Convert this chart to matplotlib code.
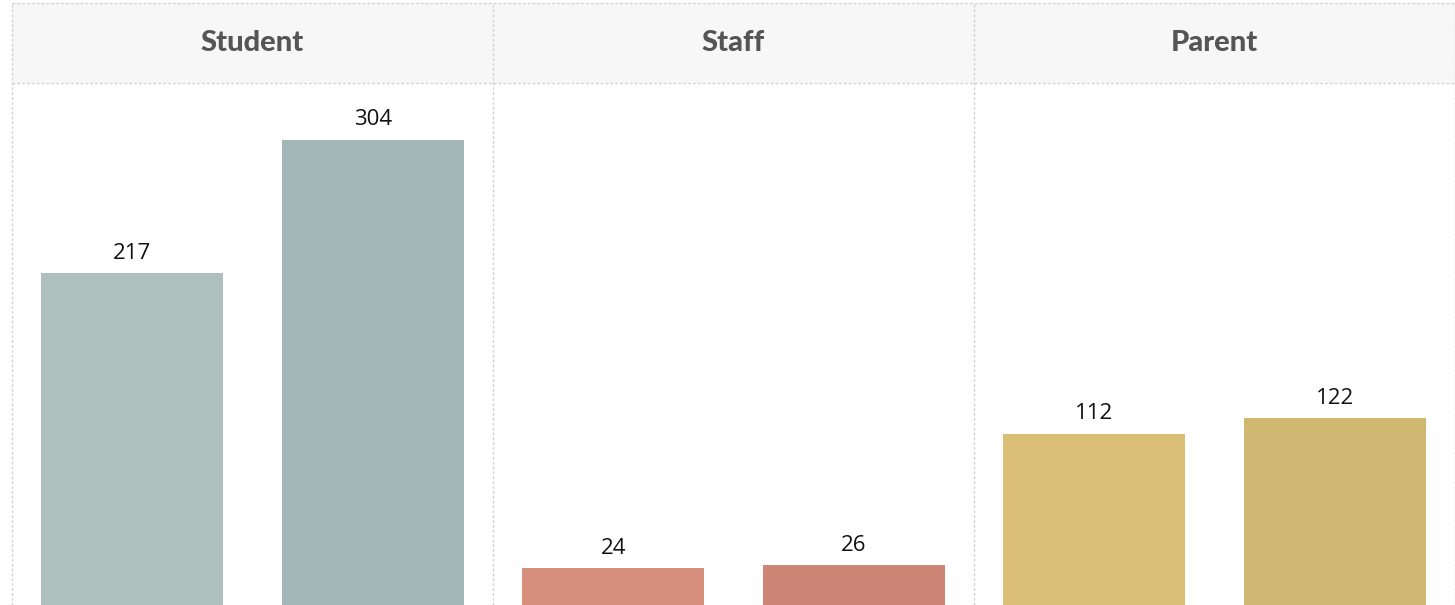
import matplotlib.pyplot as plt
from matplotlib.patches import Rectangle
from matplotlib.lines import Line2D

groups = ["Student", "Staff", "Parent"]
values = [[217, 304], [24, 26], [112, 122]]
colors = [["#adc0be", "#a3b8b6"], ["#d68f7c", "#cd8676"], ["#dbbf76", "#d1b872"]]

W, H = 1455, 605
fig = plt.figure(figsize=(W / 100, H / 100), dpi=100)

# panel geometry in pixels
left0, pw = 12, 481
head_top, head_bot = 3, 83

grid_kw = dict(color="#d2d2d2", lw=1, ls=(0, (2, 1.5)))

# header band
fig.patches.append(Rectangle((left0 / W, 1 - head_bot / H), 3 * pw / W, (head_bot - head_top) / H,
                             transform=fig.transFigure, facecolor="#f7f7f7", edgecolor="none", zorder=0))

for i, name in enumerate(groups):
    x0 = left0 + i * pw
    ax = fig.add_axes([x0 / W, 0, pw / W, 1 - head_bot / H])
    bars = ax.bar([0, 1], values[i], width=0.757, color=colors[i])
    for b, v in zip(bars, values[i]):
        ax.text(b.get_x() + b.get_width() / 2, v + 6, str(v), ha="center", va="bottom",
                fontsize=16, family="Open Sans", color="#111111")
    ax.set_xlim(-0.5, 1.5)
    ax.set_ylim(0, 341)
    ax.axis("off")
    fig.text((x0 + pw / 2) / W, 1 - (head_top + head_bot) / 2 / H, name, ha="center", va="center",
             fontsize=21, fontweight="black", family="Lato", color="#555555")

# dashed borders
for k in range(4):
    x = (left0 + k * pw) / W
    fig.lines.append(Line2D([x, x], [0, 1 - head_top / H], transform=fig.transFigure, **grid_kw))
for y in [head_top, head_bot]:
    fig.lines.append(Line2D([left0 / W, 1], [1 - y / H, 1 - y / H], transform=fig.transFigure, **grid_kw))

fig.savefig("out.png", dpi=100, facecolor="white")
